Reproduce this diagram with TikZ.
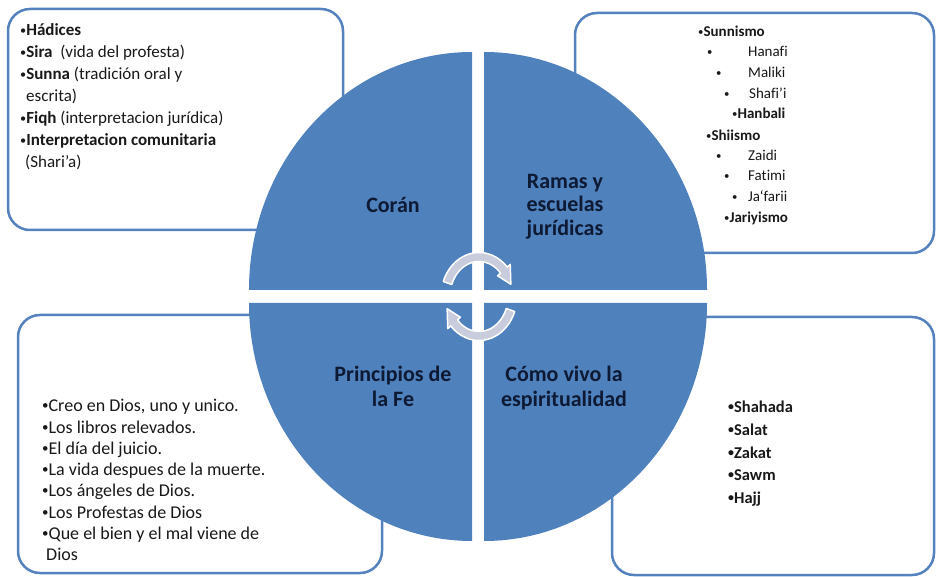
\documentclass[tikz,border=0pt]{standalone}
\usepackage{graphicx}
\usepackage{fontspec}
\setmainfont{Carlito}[Ligatures=NoCommon]
\newcommand{\bu}{\raisebox{0.1em}{\scalebox{0.72}{•}}}
\definecolor{quad}{RGB}{79,129,189}
\definecolor{boxline}{RGB}{84,130,190}
\definecolor{arrowfill}{RGB}{200,204,220}
\definecolor{labeltext}{RGB}{14,26,52}
\definecolor{bodytext}{RGB}{25,25,25}
\begin{document}
\begin{tikzpicture}[x=1pt,y=1pt,
  infobox/.style={draw=boxline, line width=2.5pt, fill=white, rounded corners=22pt},
  quadfill/.style={fill=quad},
  ringarrow/.style={fill=arrowfill, draw=white, line width=1.5pt, line join=round},
  qlabel/.style={anchor=base, inner sep=0pt, text=labeltext, font=\fontsize{22}{26}\selectfont\bfseries},
  tltext/.style={anchor=base west, inner sep=0pt, text=bodytext, font=\fontsize{17}{21}\selectfont},
  trtext/.style={anchor=base west, inner sep=0pt, text=bodytext, font=\fontsize{15}{18}\selectfont},
  bltext/.style={anchor=base west, inner sep=0pt, text=bodytext, font=\fontsize{18}{21}\selectfont},
  brtext/.style={anchor=base west, inner sep=0pt, text=bodytext, font=\fontsize{16.5}{20}\selectfont\bfseries}
]
\useasboundingbox (0,0) rectangle (936,576);
\fill[white] (0,0) rectangle (936,576);

% info boxes
\draw[infobox] (8,567) rectangle (343,346);
\draw[infobox] (575,563) rectangle (934,323);
\draw[infobox] (18,261) rectangle (382,3);
\draw[infobox] (612,259) rectangle (934,1);

% quadrants
\fill[quadfill] (472,286) -- (249,286) arc[start angle=180, end angle=90, x radius=223, y radius=238] -- cycle;
\fill[quadfill] (484,286) -- (484,524) arc[start angle=90, end angle=0, x radius=223, y radius=238] -- cycle;
\fill[quadfill] (472,273) -- (249,273) arc[start angle=180, end angle=270, x radius=223, y radius=238] -- cycle;
\fill[quadfill] (484,273) -- (707,273) arc[start angle=0, end angle=-90, x radius=223, y radius=238] -- cycle;

% circular arrows
\begin{scope}[shift={(479,279.5)}]
\filldraw[ringarrow] (160:38 and 44) arc[start angle=160, end angle=42, x radius=38, y radius=44]
  -- (42:42 and 48) -- (18:33.5 and 39.5) -- (42:25 and 31) -- (42:29 and 35)
  arc[start angle=42, end angle=160, x radius=29, y radius=35] -- cycle;
\filldraw[ringarrow] (340:38 and 44) arc[start angle=340, end angle=222, x radius=38, y radius=44]
  -- (222:42 and 48) -- (198:33.5 and 39.5) -- (222:25 and 31) -- (222:29 and 35)
  arc[start angle=222, end angle=340, x radius=29, y radius=35] -- cycle;
\end{scope}

% quadrant labels
\node[qlabel] (coran) at (393,363) {Corán};
\node[qlabel] (ramas1) at (565,387) {Ramas y};
\node[qlabel] (ramas2) at (565,364) {escuelas};
\node[qlabel] (ramas3) at (565,340) {jurídicas};
\node[qlabel] (prin1) at (393,195) {Principios de};
\node[qlabel] (prin2) at (393,170) {la Fe};
\node[qlabel] (como1) at (564,195) {Cómo vivo la};
\node[qlabel] (como2) at (564,170) {espiritualidad};

% top-left text
\node[tltext] (h1) at (20,540) {\bu\textbf{Hádices}};
\node[tltext] (h2) at (20,518) {\bu\textbf{Sira}\ \ (vida del profesta)};
\node[tltext] (h3) at (20,496) {\bu\textbf{Sunna} (tradición oral y};
\node[tltext] (h3b) at (26,474) {escrita)};
\node[tltext] (h4) at (20,452) {\bu\textbf{Fiqh} (interpretacion jurídica)};
\node[tltext] (h5) at (20,430) {\bu\textbf{Interpretacion comunitaria}};
\node[tltext] (h5b) at (25,408) {(Shari'a)};

% top-right text
\node[trtext] (s1) at (698,539) {\bu\textbf{Sunnismo}};
\node[trtext] (s2b) at (707,519) {\bu};
\node[trtext] (s2) at (748,519) {Hanafi};
\node[trtext] (s3b) at (716,498) {\bu};
\node[trtext] (s3) at (748,498) {Maliki};
\node[trtext] (s4b) at (724,477) {\bu};
\node[trtext] (s4) at (749,477) {Shafi'i};
\node[trtext] (s5) at (732,457) {\bu\textbf{Hanbali}};
\node[trtext] (s6) at (706,435) {\bu\textbf{Shiismo}};
\node[trtext] (s7b) at (716,415) {\bu};
\node[trtext] (s7) at (748,415) {Zaidi};
\node[trtext] (s8b) at (724,395) {\bu};
\node[trtext] (s8) at (748,395) {Fatimi};
\node[trtext] (s9b) at (732,374) {\bu};
\node[trtext] (s9) at (748,374) {Ja‘farii};
\node[trtext] (s10) at (724,353) {\bu\textbf{Jariyismo}};

% bottom-left text
\node[bltext] (p1) at (42,165) {\bu Creo en Dios, uno y unico.};
\node[bltext] (p2) at (42,143) {\bu Los libros relevados.};
\node[bltext] (p3) at (42,122) {\bu El día del juicio.};
\node[bltext] (p4) at (42,101) {\bu La vida despues de la muerte.};
\node[bltext] (p5) at (42,80) {\bu Los ángeles de Dios.};
\node[bltext] (p6) at (42,58) {\bu Los Profestas de Dios};
\node[bltext] (p7) at (42,37) {\bu Que el bien y el mal viene de};
\node[bltext] (p7b) at (46,16) {Dios};

% bottom-right text
\node[brtext] (w1) at (728,164) {\bu Shahada};
\node[brtext] (w2) at (728,141) {\bu Salat};
\node[brtext] (w3) at (728,118) {\bu Zakat};
\node[brtext] (w4) at (728,96) {\bu Sawm};
\node[brtext] (w5) at (728,73) {\bu Hajj};
\end{tikzpicture}
\end{document}
